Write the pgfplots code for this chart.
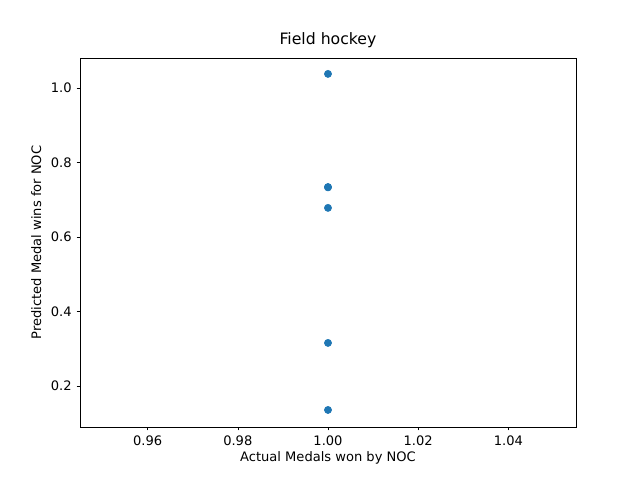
\documentclass[border=0pt]{standalone}
\usepackage{fontspec}
\setmainfont{DejaVu Sans}
\usepackage{pgfplots}
\pgfplotsset{compat=1.18}
\definecolor{mplblue}{HTML}{1F77B4}
\begin{document}
\begin{tikzpicture}
\path[use as bounding box] (-57.6pt,-38.2pt) rectangle (403.2pt,307.4pt);
\begin{axis}[at={(0,0)},anchor=south west,
  scale only axis, width=357.1pt, height=265.7pt,
  xmin=0.945, xmax=1.055, ymin=0.090, ymax=1.0805,
  xtick={0.96,0.98,1.00,1.02,1.04},
  ytick={0.2,0.4,0.6,0.8,1.0},
  xticklabel style={/pgf/number format/.cd,fixed,fixed zerofill,precision=2},
  yticklabel style={/pgf/number format/.cd,fixed,fixed zerofill,precision=1},
  /pgf/number format/assume math mode=true,
  tick style={black}, tick align=outside, tick pos=left,
  major tick length=2.5pt,
  ticklabel style={font=\fontsize{9.4}{10}\selectfont},
  label style={font=\fontsize{9.4}{10}\selectfont},
  title style={font=\fontsize{11.3}{12}\selectfont, yshift=-2pt},
  xlabel style={yshift=2pt},
  title={Field hockey},
  xlabel={Actual Medals won by NOC},
  ylabel={Predicted Medal wins for NOC},
]
\addplot[only marks, mark=*, mark size=2.6pt, mplblue] coordinates {
(1,1.0376) (1,0.734) (1,0.733) (1,0.678) (1,0.3155) (1,0.1356)};
\end{axis}
\end{tikzpicture}
\end{document}
